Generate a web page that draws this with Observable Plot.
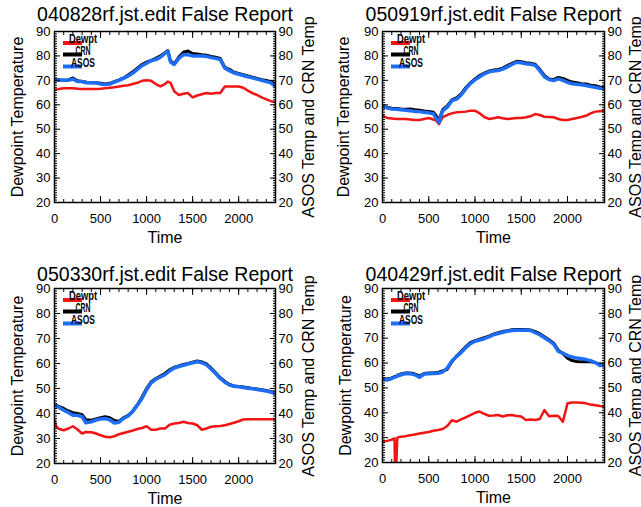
<!DOCTYPE html>
<html><head><meta charset="utf-8">
<script src="https://cdn.jsdelivr.net/npm/d3@7"></script>
<script src="https://cdn.jsdelivr.net/npm/@observablehq/plot@0.6"></script>
<style>
html,body{margin:0;padding:0;background:#fff;}
#wrap{position:relative;width:641px;height:507px;overflow:hidden;background:#fff;}
.panel{position:absolute;}
</style></head><body><div id="wrap"></div>
<script>
// ---------- tick labels ----------
const xMajorTicks = [0, 500, 1000, 1500, 2000];
const xMinorTicks = [0,100,200,300,400,500,600,700,800,900,1000,1100,1200,1300,1400,1500,1600,1700,1800,1900,2000,2100,2200,2300,2400];
const yMajorTicks = [20, 30, 40, 50, 60, 70, 80, 90];
const yMinorTicks = [20,21,22,23,24,25,26,27,28,29,30,31,32,33,34,35,36,37,38,39,40,41,42,43,44,45,46,47,48,49,50,51,52,53,54,55,56,57,58,59,60,61,62,63,64,65,66,67,68,69,70,71,72,73,74,75,76,77,78,79,80,81,82,83,84,85,86,87,88,89,90];
const seriesNames = ["Dewpt", "CRN", "ASOS"];

// ---------- panel titles ----------
const titles = ["040828rf.jst.edit False Report", "050919rf.jst.edit False Report",
                "050330rf.jst.edit False Report", "040429rf.jst.edit False Report"];

// ---------- panel 1: 040828 ----------
const time1 = [0,50,100,150,200,250,300,350,400,450,500,550,600,650,700,750,800,850,900,950,1000,1050,1100,1150,1200,1230,1260,1300,1350,1400,1450,1500,1550,1600,1650,1700,1750,1800,1850,1900,1950,2000,2050,2100,2150,2200,2250,2300,2350,2400];
const asos1 = [70,70,70,70,70.5,69.5,69.5,69,69,69,68.5,68.3,68.5,69.3,70,70.8,71.8,73,74.5,76,77,78,78.5,79.5,81,82,77.5,76.5,79,80.5,80.5,80,80,80,79.8,79.3,79,78.5,75,74,73,72.5,72,71.5,71,70.5,70,69.5,69,67.5];
const crn1  = [70.3,70.2,70,70.2,71,69.8,69.5,69.2,69,69,68.8,68.5,68.8,69.5,70.2,71,72.2,73.5,75,76.5,77.5,78.2,79,80,81.3,82.2,78,76.8,79.5,81.5,82,81,80.8,80.5,80.3,79.8,79.5,79,75.3,74.5,73.3,72.8,72.3,71.8,71.3,70.8,70.3,70,69.5,68.5];
const dew1  = [66,66.5,66.8,66.8,66.8,66.6,66.5,66.5,66.5,66.5,66.6,66.8,67,67.2,67.5,67.8,68,68.5,69,69.8,70,69.8,68.5,67.5,68.5,69.5,69,65.5,64,64.5,64.8,63,63.8,64.3,64.8,64.5,64.8,64.8,67.5,67.5,67.5,67.5,67,65.8,64.8,64,63,62.2,61.5,61];

// ---------- panel 2: 050919 ----------
const time2 = [0,50,100,150,200,250,300,350,400,450,500,550,580,610,650,700,750,800,850,900,950,1000,1050,1100,1150,1200,1250,1300,1350,1400,1450,1500,1550,1600,1650,1700,1750,1800,1850,1900,1950,2000,2050,2100,2150,2200,2250,2300,2350,2400];
const asos2 = [59.6,58.7,58.3,58.2,58,57.8,57.6,57.3,57.2,56.9,56.7,56.3,54.5,52.8,57.5,59,61.7,62.3,64,66.5,68.7,70.2,71.5,72.6,73.5,73.8,74,74.6,75.5,76.5,77.4,77.2,76.8,76.6,76.2,74,71.5,70.3,69.9,70.6,70,69.2,68.6,68.4,68.2,67.9,67.5,67.2,66.8,66.5];
const crn2  = [59.2,59,58.6,58.5,58.3,58.2,58.3,58,57.8,57.5,57.3,57,55.5,53.5,58,59.5,62,62.8,64.5,67,69,70.6,72,73,73.8,74.2,74.5,75,76,77,77.8,77.6,77.2,77,76.6,74.5,72,70.6,70.3,71.2,70.8,70,69.3,69,68.6,68.5,68,67.8,67.3,67];
const dew2  = [55.5,54.6,54.4,54.2,54.2,54.2,54,53.8,53.8,54.2,54.6,54,53.5,52.1,54.9,55.8,56.5,56.9,57,57.2,57.6,57.6,56.5,55,54.2,54.5,54.9,54.5,54.2,54.4,54.6,54.6,54.9,55.3,56.2,55.8,55.1,55,54.9,54.2,53.8,53.8,54.2,54.6,55,55.5,56.5,57.2,57.4,57.6];

// ---------- panel 3: 050330 ----------
const time3 = [0,20,50,100,150,200,250,300,340,400,450,500,550,600,650,700,750,800,850,900,950,1000,1050,1100,1150,1200,1250,1300,1350,1400,1450,1500,1550,1600,1650,1700,1750,1800,1850,1900,1950,2000,2050,2100,2150,2200,2250,2300,2350,2400];
const asos3 = [43.3,43,42.4,41.3,40.4,39.3,39.3,38.7,36.3,36.7,37.4,37.8,38,37.5,36.2,36.5,38,39,40.8,43.3,46,49.5,52.3,53.7,54.6,55.5,57,58.2,58.8,59.3,59.8,60.3,60.7,60.3,59.5,57.8,56,54,52.5,51.4,50.9,50.7,50.4,50.1,49.9,49.6,49.3,49,48.6,48];
const crn3  = [43.5,43.3,42.8,42,41,40.3,40,39.5,37.5,37.3,37.8,38.3,38.7,38.3,37.2,36.8,38.3,39.3,41,43.5,46.5,50,52.7,54,55,56,57.5,58.5,59,59.6,60,60.5,61,60.6,59.8,58.2,56.3,54.3,52.8,51.6,51,50.8,50.6,50.3,50,49.8,49.5,49.2,48.8,48.3];
const dew3  = [37.3,34.7,33.8,33.3,34,34.9,33.6,32,32.6,32.5,32,31.3,30.7,30.5,30.9,31.7,32.2,32.7,33.2,33.8,34.2,34.9,33.5,33.5,34,34,35.5,36,36.2,36.7,36.2,36,35.3,33.5,34,34.7,34.9,35,35.3,35.8,36.3,36.9,37.6,37.7,37.7,37.7,37.7,37.7,37.7,37.7];

// ---------- panel 4: 040429 ----------
const time4 = [0,50,100,130,140,160,200,250,300,350,400,450,500,550,600,650,700,750,800,850,900,950,1000,1050,1100,1150,1200,1250,1300,1350,1400,1450,1500,1550,1600,1650,1700,1750,1800,1850,1900,1950,2000,2050,2100,2150,2200,2250,2300,2350,2400];
const asos4 = [53.5,53.2,53.8,54.3,54.4,54.8,55.3,55.8,55.7,55.3,54.3,55.6,55.7,55.8,55.9,56.4,58,60.8,62.6,64.2,66.2,67.8,68.8,69.3,69.8,70.5,71.4,71.9,72.4,72.8,73.1,73.2,73.2,73.3,73.1,72.2,71.4,70.2,69,67.6,64.7,64,63,62.5,62,61.7,61.4,61,60.2,59,59.3];
const crn4  = [53.8,53.6,54,54.5,54.6,55,55.6,56,56,55.6,54.8,55.8,56,56,56.2,56.8,57.5,60.5,62.8,64.6,66.6,68.2,69,69.6,70.2,70.8,71.6,72.2,72.7,73,73.4,73.5,73.5,73.5,73.3,72.6,71.8,70.6,69.4,68,65.2,63.8,62,61,60.6,60.5,60.6,60.5,60.2,59.5,59.5];
const dew4  = [28.3,28.7,29.2,29.7,10,30,30.4,30.6,31,31.3,31.7,32,32.3,32.8,33.1,33.5,34.7,37,36.4,37.3,38.2,39.1,40,40.5,39.6,38.8,38.9,39.1,38.5,39,39.1,38.7,38.5,37.1,37.3,37.1,37.5,41.1,38.6,38.8,38.7,36.4,43.8,44.1,44.1,44,43.8,43.3,43,42.7,42.5];

// ---------- layout ----------
const panels = [
  {title: titles[0], time: time1, dew: dew1, crn: crn1, asos: asos1, left: 0,   top: 0,   width: 320, height: 253, mt: 31, mb: 51, ml: 54, mr: 45, titleDy: -17, ldx: -37, rdx: 33},
  {title: titles[1], time: time2, dew: dew2, crn: crn2, asos: asos2, left: 320, top: 0,   width: 321, height: 253, mt: 31, mb: 51, ml: 62, mr: 37, titleDy: -17, ldx: -38.5, rdx: 31},
  {title: titles[2], time: time3, dew: dew3, crn: crn3, asos: asos3, left: 0,   top: 253, width: 320, height: 254, mt: 35, mb: 44, ml: 54, mr: 45, titleDy: -13.5, ldx: -37, rdx: 33},
  {title: titles[3], time: time4, dew: dew4, crn: crn4, asos: asos4, left: 320, top: 253, width: 321, height: 254, mt: 35, mb: 45, ml: 62, mr: 37, titleDy: -13.5, ldx: -37, rdx: 31}
];

const colors = {Dewpt: "#f01414", CRN: "#000000", ASOS: "#1e6ef5"};
const widths = {Dewpt: 2.5, CRN: 3, ASOS: 3.5};
const FONT = "'Liberation Sans', Arial, sans-serif";

function legendMark(p) {
  return function() {
    const g = d3.create("svg:g").attr("font-family", FONT);
    const offs = [12, 23.5, 35.5];
    const lens = {Dewpt: 28, CRN: 15, ASOS: 24};
    seriesNames.forEach((name, i) => {
      const y = p.mt + offs[i];
      g.append("line").attr("x1", p.ml + 9).attr("x2", p.ml + 28)
        .attr("y1", y).attr("y2", y).attr("stroke", colors[name]).attr("stroke-width", 4);
      g.append("text").attr("x", p.ml + 29).attr("y", y).attr("font-size", 12)
        .attr("font-weight", "bold")
        .attr("textLength", lens[name]).attr("lengthAdjust", "spacingAndGlyphs")
        .attr("fill", "#000").text(name);
    });
    return g.node();
  };
}

function makePanel(p) {
  const rows = (vals) => p.time.map((t, i) => ({t, v: vals[i]}));
  const common = {x: "t", y: "v", clip: true};
  const fmt = d3.format("d");
  return Plot.plot({
    width: p.width, height: p.height,
    marginTop: p.mt, marginBottom: p.mb, marginLeft: p.ml, marginRight: p.mr,
    style: {fontFamily: FONT, fontSize: "13px", color: "#000", background: "#fff", overflow: "visible"},
    x: {domain: [0, 2400], label: null},
    y: {domain: [20, 90], label: null},
    marks: [
      Plot.line(rows(p.dew), {...common, stroke: colors.Dewpt, strokeWidth: widths.Dewpt}),
      Plot.line(rows(p.crn), {...common, stroke: colors.CRN, strokeWidth: widths.CRN}),
      Plot.line(rows(p.asos), {...common, stroke: colors.ASOS, strokeWidth: widths.ASOS}),
      Plot.axisX({ticks: xMinorTicks, tickSize: 3, insetBottom: 3, fill: "none", label: null}),
      Plot.axisX({ticks: xMajorTicks, tickSize: 6, insetBottom: 6, tickPadding: 11, tickFormat: fmt, fontSize: 13, label: null}),
      Plot.axisX({anchor: "top", ticks: xMinorTicks, tickSize: 3, insetTop: 3, fill: "none", label: null}),
      Plot.axisX({anchor: "top", ticks: xMajorTicks, tickSize: 6, insetTop: 6, fill: "none", label: null}),
      Plot.axisY({ticks: yMinorTicks, tickSize: 3, insetLeft: 3, fill: "none", label: null}),
      Plot.axisY({ticks: yMajorTicks, tickSize: 6, insetLeft: 6, tickPadding: 4, fontSize: 13, label: null}),
      Plot.axisY({anchor: "right", ticks: yMinorTicks, tickSize: 3, insetRight: 3, fill: "none", label: null}),
      Plot.axisY({anchor: "right", ticks: yMajorTicks, tickSize: 6, insetRight: 6, tickPadding: 3, fontSize: 13, label: null}),
      Plot.frame({stroke: "#000", strokeWidth: 1.5}),
      Plot.text([p.title], {text: d => d, frameAnchor: "top", dy: p.titleDy, fontSize: 19.5, textAnchor: "middle", lineAnchor: "middle"}),
      Plot.text(["Time"], {text: d => d, frameAnchor: "bottom", dy: 35.5, fontSize: 16, textAnchor: "middle", lineAnchor: "middle"}),
      Plot.text(["Dewpoint Temperature"], {text: d => d, frameAnchor: "left", dx: p.ldx, rotate: -90, fontSize: 16, textAnchor: "middle", lineAnchor: "middle"}),
      Plot.text(["ASOS Temp and CRN Temp"], {text: d => d, frameAnchor: "right", dx: p.rdx, rotate: -90, fontSize: 16, textAnchor: "middle", lineAnchor: "middle"}),
      legendMark(p)
    ]
  });
}

const wrap = document.getElementById("wrap");
panels.forEach(p => {
  const div = document.createElement("div");
  div.className = "panel";
  div.style.left = p.left + "px";
  div.style.top = p.top + "px";
  div.appendChild(makePanel(p));
  wrap.appendChild(div);
});
</script>
</body></html>
